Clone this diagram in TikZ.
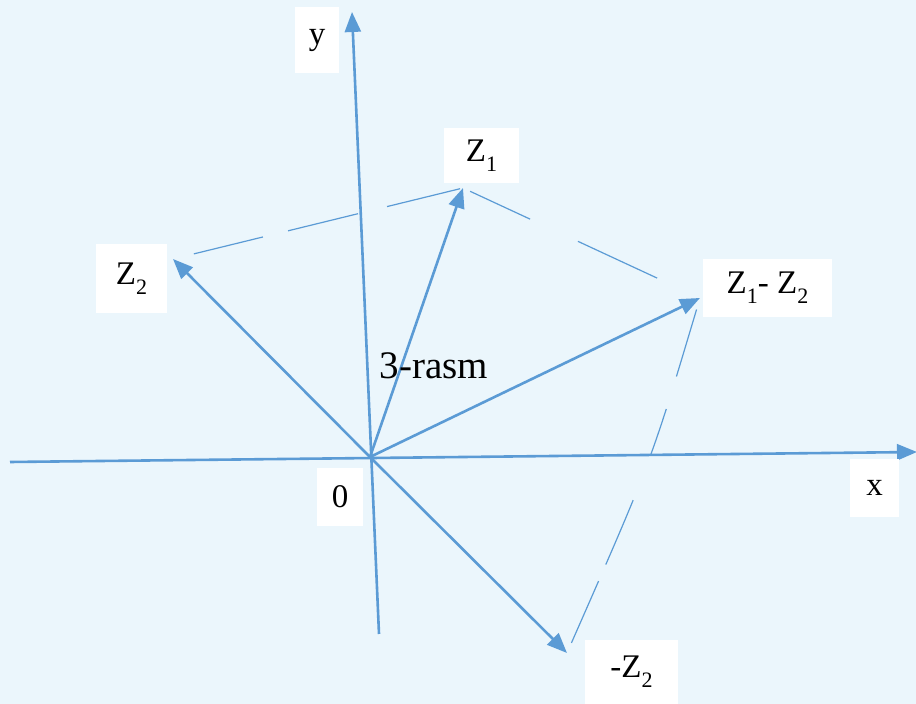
\documentclass[tikz,border=0pt]{standalone}
\usepackage{fontspec}
\setmainfont{Liberation Serif}
\usetikzlibrary{arrows.meta, calc}
\definecolor{vecblue}{HTML}{5B9BD5}
\definecolor{bgblue}{HTML}{EBF6FC}
\newcommand{\lowsub}[1]{\raisebox{-0.3em}{\fontsize{11}{12}\selectfont #1}}
\tikzset{
    vec/.style={vecblue, line width=1.3pt, -{Triangle[length=10pt,width=8pt]}},
    axis/.style={vecblue, line width=1.3pt},
    helper/.style={vecblue, line width=0.6pt},
    lbl/.style={fill=white, inner sep=0pt, font=\fontsize{16.5}{18}\selectfont}
}
\begin{document}
\begin{tikzpicture}[x=0.5pt, y=-0.5pt]
    
    % background, 916 x 704
    \fill[bgblue] (0,0) rectangle (916,704);
    \useasboundingbox (0,0) rectangle (916,704);
    
    \coordinate (o) at (370,457);
    \coordinate (z1) at (463,188);
    \coordinate (z2) at (173,259);
    \coordinate (z12) at (700,298);
    \coordinate (mz2) at (567,653);
    \coordinate (xl) at (10,462);
    \coordinate (xr) at (917,452);
    \coordinate (yb) at (379,634);
    \coordinate (yt) at (352,12);
    
    % axes
    \draw[axis, -{Triangle[length=10pt,width=8pt]}] (xl) -- (xr);
    \draw[axis, -{Triangle[length=10pt,width=8pt]}] (yb) -- (yt);
    
    % parallelogram sides (broken)
    \foreach \a/\b in {0.072/0.31, 0.397/0.638, 0.738/0.99}
        \draw[helper] ($(z2)!\a!(z1)$) -- ($(z2)!\b!(z1)$);
    \foreach \a/\b in {0.03/0.283, 0.485/0.819}
        \draw[helper] ($(z1)!\a!(z12)$) -- ($(z1)!\b!(z12)$);
    \draw[helper, shorten <=6pt, shorten >=5.5pt,
          dash pattern=on 35pt off 17pt on 24.5pt off 24pt on 35pt off 9pt on 40pt]
        (z12) .. controls (651,462) .. (mz2);
    
    % vectors
    \draw[vec] (o) -- (z1);
    \draw[vec] (o) -- (z2);
    \draw[vec] (o) -- (z12);
    \draw[vec] (o) -- (mz2);
    
    % labels
    \node[lbl, minimum width=22pt, minimum height=33pt] (ylbl) at (317,40) {y};
    \node[lbl, minimum width=37.5pt, minimum height=27.5pt] (z1lbl) at (481.5,155.5) {Z\lowsub{1}};
    \node[lbl, minimum width=35.5pt, minimum height=34.5pt] (z2lbl) at (131.5,278.5) {Z\lowsub{2}};
    \node[lbl, minimum width=64.5pt, minimum height=29pt] (z12lbl) at (767.5,288) {Z\lowsub{1}- Z\lowsub{2}};
    \node[lbl, minimum width=23pt, minimum height=29pt] (olbl) at (340,497) {0};
    \node[lbl, minimum width=24.5pt, minimum height=29pt] (xlbl) at (874.5,488) {x};
    \node[lbl, minimum width=46.5pt, minimum height=32pt] (mz2lbl) at (631.5,672) {-Z\lowsub{2}};
    
    \node[font=\fontsize{19.5}{21}\selectfont] (cap) at (434,366) {3-rasm};
\end{tikzpicture}
\end{document}
